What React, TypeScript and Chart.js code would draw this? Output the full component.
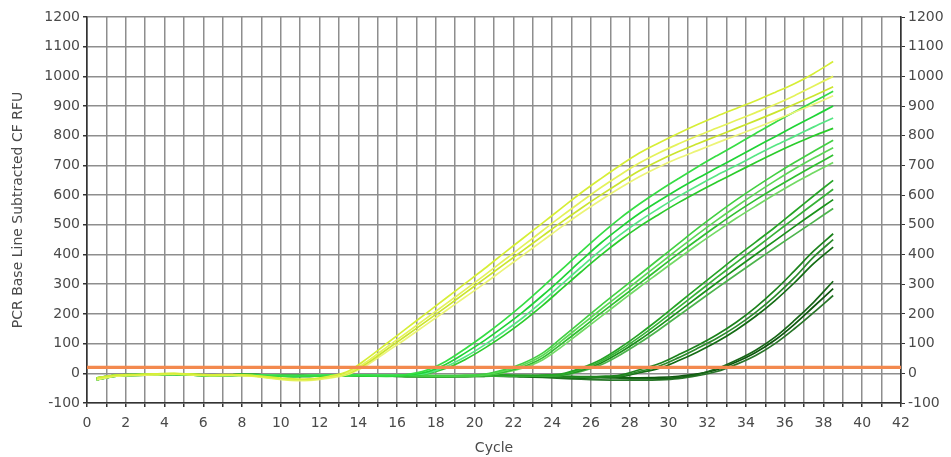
import React, { useEffect, useRef } from 'react';
import { Chart, registerables } from 'chart.js';

Chart.register(...registerables);

const CYCLES = [0.5, 1.5, 2.5, 3.5, 4.5, 5.5, 6.5, 7.5, 8.5, 9.5, 10.5, 11.5, 12.5, 13.5, 14.5, 15.5, 16.5, 17.5, 18.5, 19.5, 20.5, 21.5, 22.5, 23.5, 24.5, 25.5, 26.5, 27.5, 28.5, 29.5, 30.5, 31.5, 32.5, 33.5, 34.5, 35.5, 36.5, 37.5, 38.5];

// Group 1 – yellow (earliest rise)
const Y1A = [-15, -6, -4, -2, 0, -3, -5, -4, -7, -13, -18, -19, -10, 8, 52, 102, 152, 202, 252, 302, 352, 404, 455, 506, 557, 608, 655, 700, 742, 776, 808, 838, 866, 892, 918, 946, 975, 1010, 1050];
const Y1B = [-20, -9, -6, -4, -2, -5, -7, -6, -9, -16, -22, -22, -14, 2, 42, 90, 137, 185, 233, 281, 330, 380, 430, 480, 530, 578, 625, 668, 708, 742, 772, 800, 826, 852, 878, 905, 935, 968, 1000];
const Y1C = [-16, -7, -5, -3, -1, -4, -6, -5, -8, -15, -21, -21, -13, 0, 36, 82, 128, 175, 222, 270, 318, 366, 414, 462, 510, 556, 600, 642, 682, 716, 746, 773, 799, 825, 851, 878, 906, 935, 965];
const Y1D = [-22, -10, -7, -5, -3, -6, -8, -7, -10, -17, -24, -24, -16, -3, 30, 74, 118, 164, 210, 256, 302, 350, 398, 446, 494, 540, 583, 624, 662, 695, 724, 750, 776, 801, 826, 852, 879, 906, 935];

// Group 2 – bright green
const G2A = [-18, -8, -5, -4, -3, -5, -7, -6, -6, -8, -9, -8, -7, -6, -7, -8, -4, 10, 40, 82, 128, 178, 232, 290, 350, 410, 468, 522, 570, 614, 655, 695, 733, 770, 808, 845, 880, 915, 950];
const G2B = [-22, -10, -7, -5, -4, -6, -8, -7, -7, -9, -10, -9, -8, -7, -8, -9, -6, 4, 30, 68, 110, 157, 207, 262, 320, 380, 438, 490, 538, 580, 620, 657, 692, 727, 762, 797, 832, 866, 900];
const G2C = [-15, -7, -4, -3, -2, -4, -6, -5, -5, -7, -8, -7, -6, -5, -6, -7, -5, 0, 22, 55, 95, 140, 188, 242, 300, 358, 414, 466, 513, 555, 595, 632, 667, 700, 734, 767, 798, 830, 860];
const G2D = [-20, -9, -6, -5, -4, -6, -8, -7, -7, -9, -10, -9, -8, -8, -9, -10, -8, -2, 16, 46, 84, 127, 175, 228, 285, 342, 397, 448, 494, 535, 574, 610, 644, 677, 710, 742, 772, 800, 825];

// Group 3 – mid green
const G3A = [-20, -8, -5, -3, -2, -4, -6, -5, -4, -6, -8, -8, -6, -5, -6, -7, -6, -7, -8, -7, -3, 12, 34, 68, 120, 174, 228, 280, 332, 384, 436, 488, 537, 584, 628, 670, 710, 748, 785];
const G3B = [-17, -7, -5, -4, -3, -5, -7, -6, -5, -7, -9, -9, -7, -6, -7, -8, -7, -8, -9, -8, -5, 8, 28, 60, 110, 162, 214, 265, 316, 367, 418, 468, 516, 562, 606, 648, 688, 725, 760];
const G3C = [-22, -10, -6, -5, -4, -6, -8, -7, -6, -8, -10, -10, -8, -7, -8, -9, -8, -9, -10, -9, -6, 4, 22, 52, 100, 150, 202, 252, 302, 352, 402, 450, 497, 542, 584, 624, 662, 699, 735];
const G3D = [-16, -6, -4, -3, -2, -4, -6, -5, -4, -6, -8, -7, -6, -5, -6, -7, -6, -7, -8, -7, -6, 2, 18, 45, 90, 140, 190, 240, 290, 338, 386, 433, 478, 522, 563, 603, 641, 676, 710];

// Group 4 – green
const G4A = [-18, -7, -5, -3, -2, -4, -6, -5, -4, -6, -8, -8, -6, -5, -6, -7, -8, -9, -9, -8, -7, -6, -7, -6, -2, 18, 46, 86, 132, 182, 235, 288, 340, 392, 442, 492, 545, 598, 650];
const G4B = [-20, -9, -6, -4, -3, -5, -7, -6, -5, -7, -9, -9, -7, -6, -7, -8, -10, -11, -11, -10, -9, -8, -9, -8, -4, 14, 40, 78, 122, 170, 221, 272, 323, 373, 422, 472, 522, 571, 620];
const G4C = [-16, -6, -4, -3, -2, -4, -6, -5, -4, -6, -7, -7, -6, -5, -6, -7, -9, -10, -10, -9, -8, -7, -8, -7, -5, 10, 34, 70, 112, 158, 207, 256, 305, 353, 400, 447, 494, 540, 585];
const G4D = [-22, -10, -7, -5, -4, -6, -8, -7, -6, -8, -10, -10, -8, -7, -8, -9, -11, -12, -12, -11, -10, -9, -10, -9, -7, 6, 28, 62, 102, 146, 193, 240, 287, 333, 378, 423, 467, 511, 555];

// Group 5 – dark green
const G5A = [-18, -7, -5, -3, -2, -4, -6, -5, -4, -6, -8, -8, -6, -5, -6, -7, -9, -10, -10, -9, -8, -7, -8, -9, -10, -11, -10, -6, 12, 32, 62, 94, 130, 172, 222, 280, 345, 412, 470];
const G5B = [-21, -9, -6, -4, -3, -5, -7, -6, -5, -7, -9, -9, -7, -6, -7, -8, -10, -11, -11, -10, -9, -8, -9, -10, -12, -13, -12, -9, 6, 24, 52, 84, 118, 158, 205, 260, 322, 392, 450];
const G5C = [-16, -6, -4, -3, -2, -4, -6, -5, -4, -6, -7, -7, -6, -5, -6, -7, -9, -10, -10, -9, -8, -8, -10, -12, -14, -16, -15, -12, 2, 16, 42, 72, 106, 146, 192, 245, 305, 370, 425];

// Group 6 – darkest green (latest rise)
const G6A = [-20, -8, -5, -4, -3, -5, -7, -6, -5, -7, -9, -9, -7, -6, -7, -8, -10, -11, -11, -10, -9, -9, -10, -11, -12, -13, -14, -16, -18, -18, -14, -4, 16, 44, 78, 122, 178, 240, 310];
const G6B = [-17, -7, -5, -3, -2, -4, -6, -5, -4, -6, -8, -8, -6, -5, -6, -7, -9, -10, -10, -9, -8, -8, -9, -10, -11, -12, -13, -14, -15, -14, -10, -2, 12, 38, 70, 112, 165, 225, 285];
const G6C = [-22, -10, -7, -5, -4, -6, -8, -7, -6, -8, -10, -10, -8, -7, -8, -9, -11, -12, -12, -11, -10, -10, -12, -14, -17, -20, -22, -23, -23, -22, -18, -8, 6, 30, 60, 100, 150, 205, 262];

const THRESHOLD = 20;
const X_RANGE = [0, 42];
const Y_RANGE = [-100, 1200];

const SERIES = [Y1A, Y1B, Y1C, Y1D, G2A, G2B, G2C, G2D, G3A, G3B, G3C, G3D, G4A, G4B, G4C, G4D, G5A, G5B, G5C, G6A, G6B, G6C];
const COLORS = [
  '#d6ee36', '#e4f25a', '#cbe52e', '#ecf476',
  '#36dd44', '#1fd436', '#56e684', '#2bcc2b',
  '#42d042', '#5cd856', '#30c030', '#72da64',
  '#26a426', '#36b236', '#1a921a', '#4cb44c',
  '#1c821c', '#2a8a2a', '#136c13',
  '#176617', '#0d560d', '#287628',
];

const FONT = { family: '"DejaVu Sans", Verdana, sans-serif', size: 14 };
const TICK_COLOR = '#4a4a4a';
const GRID_COLOR = '#8e8e8e';

export default function App() {
  const ref = useRef<HTMLCanvasElement | null>(null);

  useEffect(() => {
    if (!ref.current) return;
    const curveSets = SERIES.map((vals, i) => ({
      data: vals.map((v, j) => ({ x: CYCLES[j], y: v })),
      borderColor: COLORS[i],
      borderWidth: 1.7,
      pointRadius: 0,
      tension: 0.35,
      fill: false,
      order: 1,
      yAxisID: 'y',
    }));
    const thresholdSet = {
      data: [
        { x: X_RANGE[0], y: THRESHOLD },
        { x: X_RANGE[1], y: THRESHOLD },
      ],
      borderColor: '#f3894e',
      borderWidth: 3.2,
      pointRadius: 0,
      fill: false,
      order: 0,
      yAxisID: 'y',
    };

    const yScaleCommon = {
      type: 'linear' as const,
      min: Y_RANGE[0],
      max: Y_RANGE[1],
      ticks: {
        stepSize: 100,
        color: TICK_COLOR,
        font: FONT,
        padding: 3,
        callback: (v: any) => String(v),
      },
    };

    const chart = new Chart(ref.current, {
      type: 'line',
      data: { datasets: [thresholdSet, ...curveSets] as any },
      options: {
        responsive: false,
        maintainAspectRatio: false,
        animation: false,
        events: [],
        layout: { padding: { top: 17, left: 0, right: 0, bottom: 0 } },
        plugins: {
          legend: { display: false },
          tooltip: { enabled: false },
        },
        scales: {
          x: {
            type: 'linear',
            min: X_RANGE[0],
            max: X_RANGE[1],
            ticks: {
              stepSize: 1,
              autoSkip: false,
              maxRotation: 0,
              color: TICK_COLOR,
              font: FONT,
              padding: 8,
              callback: (v: any) => (Number(v) % 2 === 0 ? String(v) : ''),
            },
            grid: {
              color: GRID_COLOR,
              lineWidth: 1.5,
              tickLength: 4,
              tickColor: '#333',
            },
            border: { color: '#333', width: 1.6 },
            title: {
              display: true,
              text: 'Cycle',
              color: TICK_COLOR,
              font: FONT,
              padding: { top: 0, bottom: 0 },
            },
            afterFit: (s: any) => {
              s.height = 54;
            },
          },
          y: {
            ...yScaleCommon,
            position: 'left',
            grid: {
              color: GRID_COLOR,
              lineWidth: 1.5,
              tickLength: 4,
              tickColor: '#333',
            },
            border: { color: '#333', width: 1.6 },
            title: {
              display: true,
              text: 'PCR Base Line Subtracted CF RFU',
              color: TICK_COLOR,
              font: { ...FONT, size: 14 },
              padding: { top: 10, bottom: 0 },
            },
            afterFit: (s: any) => {
              s.width = 87;
            },
          },
          y2: {
            ...yScaleCommon,
            position: 'right',
            grid: {
              drawOnChartArea: false,
              tickLength: 4,
              tickColor: '#333',
            },
            border: { color: '#333', width: 1.6 },
            afterFit: (s: any) => {
              s.width = 50;
            },
          },
        },
      } as any,
    });
    return () => chart.destroy();
  }, []);

  return (
    <div style={{ position: 'absolute', left: 0, top: 0, width: 951, height: 457, background: '#fff' }}>
      <canvas ref={ref} width={951} height={457} />
    </div>
  );
}
